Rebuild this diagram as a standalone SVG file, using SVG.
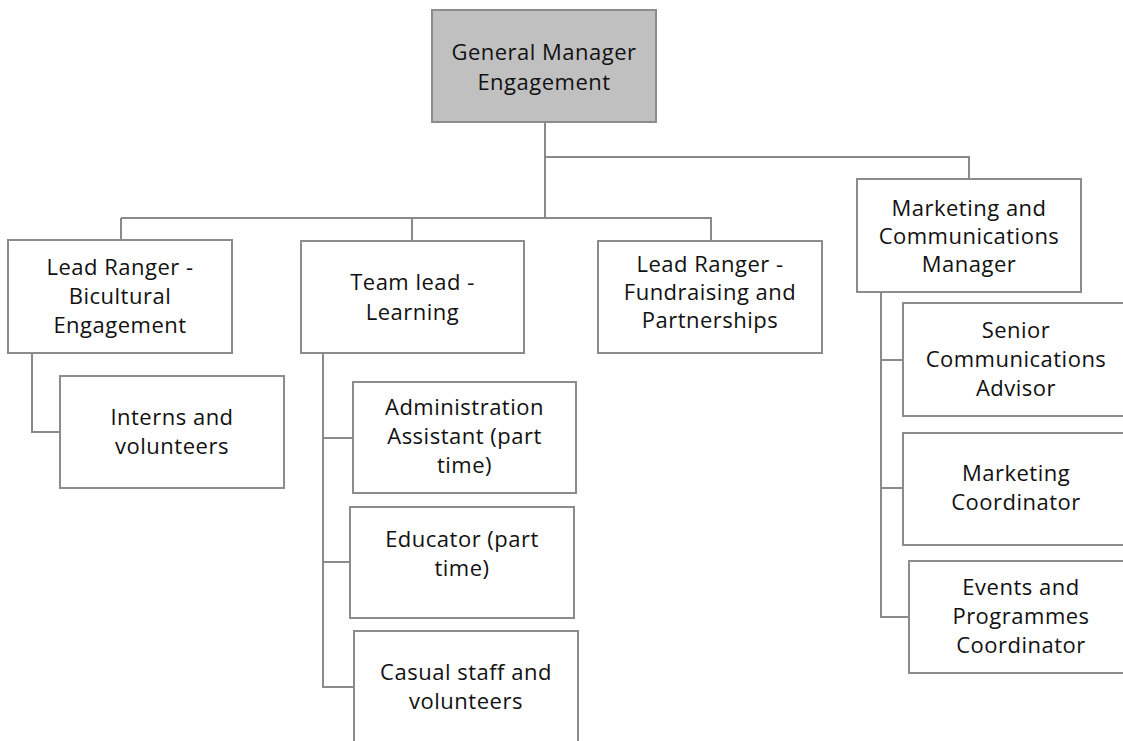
<svg xmlns="http://www.w3.org/2000/svg" width="1123" height="741" viewBox="0 0 1123 741">
  <style>
    .box { fill: #ffffff; stroke: #8c8c8c; stroke-width: 2; }
    .head { fill: #c0c0c0; }
    .lbl { font-family: "Open Sans", "Liberation Sans", sans-serif; font-size: 22px; letter-spacing: 0.5px; fill: #111111; text-anchor: middle; }
    .wire { fill: none; stroke: #8a8a8a; stroke-width: 2; }
  </style>
  <rect width="1123" height="741" fill="#ffffff"/>

  <!-- reporting lines -->
  <g id="connectors">
    <path class="wire" d="M545 122 V157 H969 V179"/>
    <path class="wire" d="M545 157 V218"/>
    <path class="wire" d="M121 218 H711 V241"/>
    <path class="wire" d="M121 218 V240"/>
    <path class="wire" d="M412 218 V241"/>
    <path class="wire" d="M32 353 V432 H60"/>
    <path class="wire" d="M323 353 V687 H354"/>
    <path class="wire" d="M323 438 H353"/>
    <path class="wire" d="M323 562 H350"/>
    <path class="wire" d="M881 292 V617 H909"/>
    <path class="wire" d="M881 360 H903"/>
    <path class="wire" d="M881 488 H903"/>
  </g>

  <g id="gm">
    <rect class="box head" x="432" y="10" width="224" height="112"/>
    <text class="lbl" x="544" y="60">General Manager</text>
    <text class="lbl" x="544" y="90">Engagement</text>
  </g>

  <g id="bicultural">
    <rect class="box" x="8" y="240" width="224" height="113"/>
    <text class="lbl" x="120" y="275">Lead Ranger -</text>
    <text class="lbl" x="120" y="304">Bicultural</text>
    <text class="lbl" x="120" y="333">Engagement</text>
  </g>

  <g id="interns">
    <rect class="box" x="60" y="376" width="224" height="112"/>
    <text class="lbl" x="172" y="425">Interns and</text>
    <text class="lbl" x="172" y="454">volunteers</text>
  </g>

  <g id="learning">
    <rect class="box" x="301" y="241" width="223" height="112"/>
    <text class="lbl" x="412.5" y="290">Team lead -</text>
    <text class="lbl" x="412.5" y="320">Learning</text>
  </g>

  <g id="admin">
    <rect class="box" x="353" y="382" width="223" height="111"/>
    <text class="lbl" x="464.5" y="415">Administration</text>
    <text class="lbl" x="464.5" y="444">Assistant (part</text>
    <text class="lbl" x="464.5" y="473">time)</text>
  </g>

  <g id="educator">
    <rect class="box" x="350" y="507" width="224" height="111"/>
    <text class="lbl" x="462" y="547">Educator (part</text>
    <text class="lbl" x="462" y="576">time)</text>
  </g>

  <g id="casual">
    <rect class="box" x="354" y="631" width="224" height="112"/>
    <text class="lbl" x="466" y="680">Casual staff and</text>
    <text class="lbl" x="466" y="709">volunteers</text>
  </g>

  <g id="fundraising">
    <rect class="box" x="598" y="241" width="224" height="112"/>
    <text class="lbl" x="710" y="272">Lead Ranger -</text>
    <text class="lbl" x="710" y="300">Fundraising and</text>
    <text class="lbl" x="710" y="328">Partnerships</text>
  </g>

  <g id="marcomms">
    <rect class="box" x="857" y="179" width="224" height="113"/>
    <text class="lbl" x="969" y="216">Marketing and</text>
    <text class="lbl" x="969" y="244">Communications</text>
    <text class="lbl" x="969" y="272">Manager</text>
  </g>

  <g id="senior">
    <rect class="box" x="903" y="303" width="226" height="113"/>
    <text class="lbl" x="1016" y="338">Senior</text>
    <text class="lbl" x="1016" y="367">Communications</text>
    <text class="lbl" x="1016" y="396">Advisor</text>
  </g>

  <g id="marketing">
    <rect class="box" x="903" y="433" width="226" height="112"/>
    <text class="lbl" x="1016" y="481">Marketing</text>
    <text class="lbl" x="1016" y="510">Coordinator</text>
  </g>

  <g id="events">
    <rect class="box" x="909" y="561" width="226" height="112"/>
    <text class="lbl" x="1021" y="595">Events and</text>
    <text class="lbl" x="1021" y="624">Programmes</text>
    <text class="lbl" x="1021" y="653">Coordinator</text>
  </g>
</svg>
